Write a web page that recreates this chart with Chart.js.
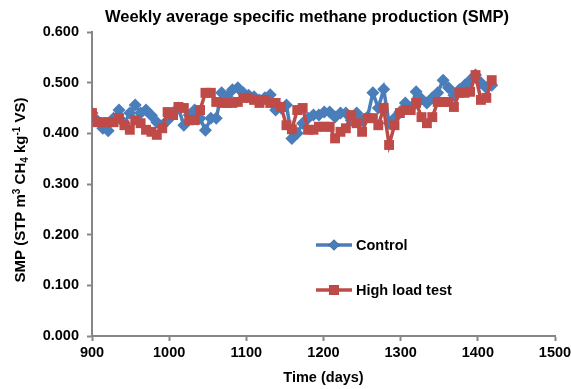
<!DOCTYPE html>
<html>
<head>
<meta charset="utf-8">
<script src="https://cdn.jsdelivr.net/npm/chart.js@4/dist/chart.umd.min.js"></script>
<style>
  html, body { margin: 0; padding: 0; background: #ffffff; }
  #wrap { width: 571px; height: 389px; position: relative; }
</style>
</head>
<body>
<div id="wrap"><canvas id="smp"></canvas></div>
<script>
// Sampling days (weekly averages)
const days = [];
for (let i = 0; i < 75; i++) days.push(900 + 7 * i);

// Weekly average SMP, m3 CH4 per kg VS
const controlSmp = [
  0.440, 0.425, 0.410, 0.405, 0.430, 0.446, 0.420, 0.440, 0.456, 0.440,
  0.446, 0.435, 0.422, 0.415, 0.426, 0.440, 0.450, 0.416, 0.436, 0.446,
  0.430, 0.406, 0.430, 0.430, 0.480, 0.472, 0.486, 0.490, 0.480, 0.475,
  0.472, 0.466, 0.470, 0.476, 0.446, 0.450, 0.456, 0.390, 0.400, 0.420,
  0.430, 0.436, 0.436, 0.442, 0.442, 0.432, 0.440, 0.440, 0.426, 0.440,
  0.426, 0.432, 0.480, 0.450, 0.487, 0.420, 0.430, 0.442, 0.460, 0.450,
  0.482, 0.468, 0.460, 0.470, 0.480, 0.505, 0.490, 0.475, 0.486, 0.495,
  0.505, 0.515, 0.500, 0.490, 0.495
];
const highLoadSmp = [
  0.440, 0.422, 0.422, 0.422, 0.422, 0.430, 0.416, 0.407, 0.426, 0.420,
  0.407, 0.403, 0.397, 0.410, 0.442, 0.436, 0.452, 0.450, 0.426, 0.426,
  0.446, 0.480, 0.480, 0.462, 0.460, 0.460, 0.460, 0.462, 0.470, 0.470,
  0.466, 0.460, 0.466, 0.460, 0.460, 0.452, 0.416, 0.408, 0.446, 0.450,
  0.407, 0.407, 0.413, 0.413, 0.413, 0.390, 0.403, 0.410, 0.436, 0.420,
  0.403, 0.430, 0.430, 0.416, 0.450, 0.377, 0.416, 0.440, 0.446, 0.446,
  0.460, 0.432, 0.420, 0.432, 0.462, 0.462, 0.462, 0.452, 0.480, 0.480,
  0.482, 0.515, 0.466, 0.470, 0.505
];

// Axis ticks
const xTicks = [900, 1000, 1100, 1200, 1300, 1400, 1500];
const yTicks = [0.0, 0.1, 0.2, 0.3, 0.4, 0.5, 0.6];

const BLUE = '#4a7ebb';
const RED = '#be4b48';
const AXIS = '#868686';
const FONT = '"Liberation Sans", Arial, sans-serif';
const TICK_FONT = { family: FONT, size: 14.5, weight: 'bold' };

const toPoints = (vals) => vals.map((v, i) => ({ x: days[i], y: v }));

// Title, axis titles and the in-plot legend
const annotations = {
  id: 'annotations',
  afterDraw(chart) {
    const ctx = chart.ctx;
    const area = chart.chartArea;
    ctx.save();
    ctx.fillStyle = '#000';

    // Chart title
    ctx.font = 'bold 16.5px ' + FONT;
    ctx.textAlign = 'center';
    ctx.textBaseline = 'middle';
    ctx.fillText('Weekly average specific methane production (SMP)', 307, 17);

    // X axis title
    ctx.font = 'bold 14.5px ' + FONT;
    ctx.fillText('Time (days)', (area.left + area.right) / 2, 378);

    // Y axis title with super/subscripts
    const parts = [
      ['SMP (STP m', 'n'], ['3', 'sup'], [' CH', 'n'], ['4', 'sub'],
      [' kg', 'n'], ['-1', 'sup'], [' VS)', 'n']
    ];
    const fontFor = (k) => k === 'n' ? 'bold 15px ' + FONT : 'bold 10px ' + FONT;
    let total = 0;
    parts.forEach(([t, k]) => { ctx.font = fontFor(k); total += ctx.measureText(t).width; });
    ctx.translate(20, 190);
    ctx.rotate(-Math.PI / 2);
    ctx.textAlign = 'left';
    ctx.textBaseline = 'alphabetic';
    let x = -total / 2;
    parts.forEach(([t, k]) => {
      ctx.font = fontFor(k);
      const dy = k === 'sup' ? -5 : (k === 'sub' ? 3 : 0);
      ctx.fillText(t, x, 5 + dy);
      x += ctx.measureText(t).width;
    });
    ctx.setTransform(1, 0, 0, 1, 0, 0);

    // Legend
    const items = [
      { label: 'Control', color: BLUE, style: 'rectRot', r: 5.5, y: 245 },
      { label: 'High load test', color: RED, style: 'rect', r: 7, y: 290 }
    ];
    items.forEach((it) => {
      ctx.strokeStyle = it.color;
      ctx.lineWidth = 3.5;
      ctx.beginPath();
      ctx.moveTo(316, it.y);
      ctx.lineTo(352, it.y);
      ctx.stroke();
      Chart.helpers.drawPoint(ctx, { pointStyle: it.style, radius: it.r, borderWidth: 0, rotation: 0 }, 334, it.y);
      ctx.fillStyle = it.color;
      ctx.fill();
      ctx.fillStyle = '#000';
      ctx.font = 'bold 14.5px ' + FONT;
      ctx.textAlign = 'left';
      ctx.textBaseline = 'middle';
      ctx.fillText(it.label, 356, it.y + 1);
    });
    ctx.restore();
  }
};

new Chart(document.getElementById('smp'), {
  type: 'line',
  data: {
    datasets: [
      {
        label: 'Control',
        data: toPoints(controlSmp),
        borderColor: BLUE,
        backgroundColor: BLUE,
        borderWidth: 3.5,
        pointStyle: 'rectRot',
        pointRadius: 6.5,
        pointBorderWidth: 0,
        tension: 0,
        order: 2
      },
      {
        label: 'High load test',
        data: toPoints(highLoadSmp),
        borderColor: RED,
        backgroundColor: RED,
        borderWidth: 3.5,
        pointStyle: 'rect',
        pointRadius: 7,
        pointBorderWidth: 0,
        tension: 0,
        order: 1
      }
    ]
  },
  options: {
    responsive: true,
    maintainAspectRatio: false,
    animation: false,
    layout: { padding: { left: 0, right: 16, top: 32, bottom: 0 } },
    plugins: { legend: { display: false }, tooltip: { enabled: false }, title: { display: false } },
    scales: {
      x: {
        type: 'linear',
        min: xTicks[0],
        max: xTicks[xTicks.length - 1],
        afterBuildTicks: (s) => { s.ticks = xTicks.map((v) => ({ value: v })); },
        afterFit: (s) => { s.height = 53; s.paddingRight = 0; s.paddingLeft = 0; },
        grid: { display: true, drawOnChartArea: false, drawTicks: true, tickLength: 5, tickColor: AXIS, tickWidth: 2 },
        border: { display: true, color: AXIS, width: 2 },
        ticks: { color: '#000', font: TICK_FONT, padding: 3, maxRotation: 0, callback: (v) => String(v) }
      },
      y: {
        min: yTicks[0],
        max: yTicks[yTicks.length - 1],
        afterBuildTicks: (s) => { s.ticks = yTicks.map((v) => ({ value: v })); },
        afterFit: (s) => { s.width = 92; },
        grid: { display: true, drawOnChartArea: false, drawTicks: true, tickLength: 5, tickColor: AXIS, tickWidth: 2 },
        border: { display: true, color: AXIS, width: 2 },
        ticks: { color: '#000', font: TICK_FONT, padding: 8, callback: (v) => Number(v).toFixed(3) }
      }
    }
  },
  plugins: [annotations]
});
</script>
</body>
</html>
